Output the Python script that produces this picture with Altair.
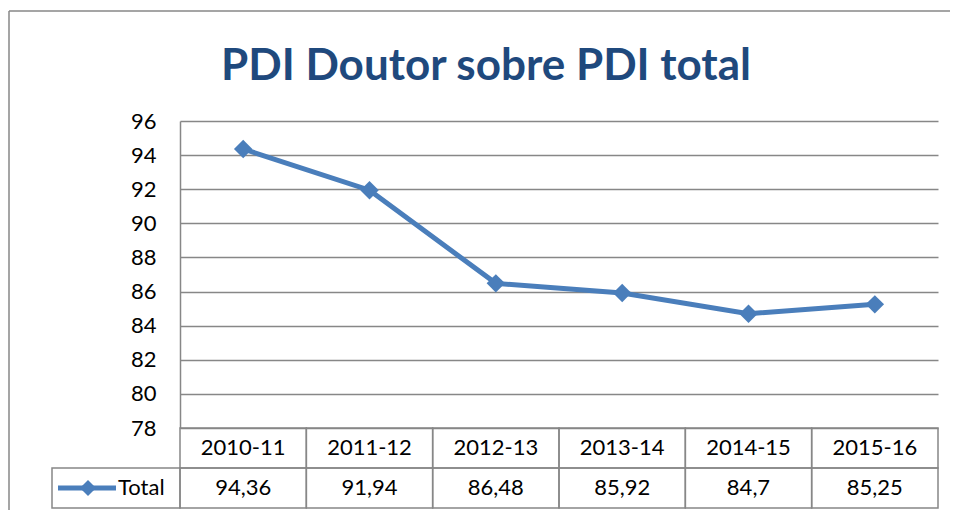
import altair as alt
import pandas as pd

categories = ["2010-11", "2011-12", "2012-13", "2013-14", "2014-15", "2015-16"]
values = [94.36, 91.94, 86.48, 85.92, 84.7, 85.25]
series_name = "Total"
y_ticks = [78, 80, 82, 84, 86, 88, 90, 92, 94, 96]
title_text = "PDI Doutor sobre PDI total"
header_row = "hdr"

BLUE = "#4A7EBB"
GRID = "#878787"
FONT = "Lato"
FS = 22

W = 758
H_PLOT = 307
H = 387

df = pd.DataFrame({"cat": categories, "value": values})

# table cells
cells = []
for c, v in zip(categories, values):
    cells.append({"cat": c, "row": header_row, "text": c})
    cells.append({"cat": c, "row": series_name, "text": str(v).replace(".", ",")})
cells_df = pd.DataFrame(cells)
legend_df = pd.DataFrame({"row": [series_name], "text": [series_name]})
one = pd.DataFrame({"k": [0]})

xscale = alt.Scale(type="band", domain=categories, paddingInner=0, paddingOuter=0)
yscale = alt.Scale(domain=[78, 96], range=[H_PLOT, 0], zero=False, nice=False)
tscale = alt.Scale(type="band", domain=[header_row, series_name], range=[H_PLOT, H],
                   paddingInner=0, paddingOuter=0)

X = alt.X("cat:N", scale=xscale, axis=None, sort=categories)

yaxis = alt.Axis(values=y_ticks, grid=True, gridColor=GRID, gridWidth=1.5,
                 domainColor=GRID, domainWidth=1.5, ticks=False, labelPadding=24,
                 labelFont=FONT, labelFontSize=FS, labelColor="black", title=None,
                 labelBaseline="middle")
YV = alt.Y("value:Q", scale=yscale, axis=yaxis)

line = alt.Chart(df).mark_line(color=BLUE, strokeWidth=5).encode(x=X, y=YV)
points = alt.Chart(df).mark_point(shape="diamond", filled=True, size=340,
                                  color=BLUE, opacity=1).encode(x=X, y=YV)
plot = alt.layer(line, points)

TY = alt.Y("row:N", scale=tscale, axis=None, sort=[header_row, series_name])

cell_rect = alt.Chart(cells_df).mark_rect(fill=None, stroke=GRID, strokeWidth=1.5).encode(
    x=X, y=TY
)
cell_text = alt.Chart(cells_df).mark_text(font=FONT, fontSize=FS, color="black",
                                          baseline="middle", align="center").encode(
    x=X, y=TY, text="text:N"
)
legend_cell = alt.Chart(legend_df).mark_rect(fill=None, stroke=GRID, strokeWidth=1.5).encode(
    x=alt.value(-128), x2=alt.value(0), y=TY
)
key_rule = alt.Chart(legend_df).mark_rule(color=BLUE, strokeWidth=5).encode(
    x=alt.value(-122), x2=alt.value(-64), y=TY
)
key_point = alt.Chart(legend_df).mark_point(shape="diamond", filled=True, size=260,
                                            color=BLUE, opacity=1).encode(
    x=alt.value(-92), y=TY
)
key_text = alt.Chart(legend_df).mark_text(font=FONT, fontSize=FS, color="black",
                                          baseline="middle", align="left").encode(
    x=alt.value(-62), y=TY, text="text:N"
)
table = alt.layer(cell_rect, cell_text, legend_cell, key_rule, key_point, key_text)

border_top = alt.Chart(one).mark_rule(color=GRID, strokeWidth=1.5).encode(
    x=alt.value(-171), x2=alt.value(770), y=alt.value(-110)
)
border_left = alt.Chart(one).mark_rule(color=GRID, strokeWidth=1.5).encode(
    x=alt.value(-171), y=alt.value(-110), y2=alt.value(H + 20)
)

chart = alt.layer(plot, table, border_top, border_left).resolve_scale(
    y="independent"
).properties(
    width=W, height=H,
    title=alt.TitleParams(text=title_text, font="Lato", fontSize=44,
                          fontWeight="bold", color="#1F497D", anchor="middle",
                          frame="group", dx=-73, offset=-114, baseline="alphabetic"),
    autosize=alt.AutoSizeParams(type="none"),
    padding={"left": 172, "top": 113, "right": 12, "bottom": 2},
).configure_view(stroke=None)

chart.save("out.html", embed_options={"renderer": "svg", "actions": False})
